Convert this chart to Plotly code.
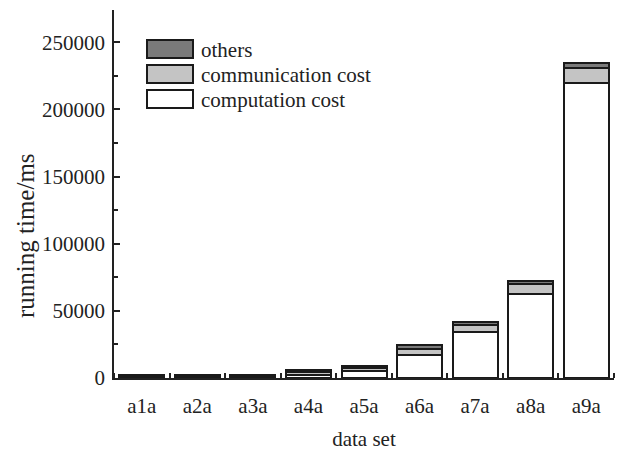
import plotly.graph_objects as go

# Running time per data set, split into its three cost components (ms)
datasets = ["a1a", "a2a", "a3a", "a4a", "a5a", "a6a", "a7a", "a8a", "a9a"]
computation_cost = [900, 1000, 900, 2600, 5500, 17000, 34000, 62500, 220000]
communication_cost = [700, 800, 700, 1500, 2000, 4500, 5500, 7500, 11000]
others = [800, 700, 900, 1500, 1500, 3000, 2500, 2000, 3500]

series = [
    ("computation cost", computation_cost, "#ffffff"),
    ("communication cost", communication_cost, "#c4c4c4"),
    ("others", others, "#7a7a7a"),
]

W, H = 620, 452
ML, MR, MT, MB = 114, 6, 10, 74
PW, PH = W - ML - MR, H - MT - MB

FONT = "Liberation Serif, Times New Roman, serif"
AXIS = "#222222"
TEXT = "#222222"

x = list(range(len(datasets)))
fig = go.Figure()
for name, vals, color in series:
    fig.add_trace(go.Bar(
        x=x, y=vals, name=name, width=0.81,
        marker=dict(color=color, line=dict(color="#1a1a1a", width=2)),
        showlegend=False,
    ))

# Legend drawn as boxes + labels in the upper-left corner
def px_to_paper_x(px):
    return (px - ML) / PW

def px_to_paper_y(py):
    return (H - MB - py) / PH

legend_rows = [("others", "#7a7a7a", 40), ("communication cost", "#c4c4c4", 65),
               ("computation cost", "#ffffff", 90)]
shapes = []
annotations = []
for label, color, top in legend_rows:
    shapes.append(dict(
        type="rect", xref="paper", yref="paper",
        x0=px_to_paper_x(147), x1=px_to_paper_x(193),
        y0=px_to_paper_y(top + 18), y1=px_to_paper_y(top),
        fillcolor=color, line=dict(color="#1a1a1a", width=2),
    ))
    annotations.append(dict(
        text=label, xref="paper", yref="paper",
        x=px_to_paper_x(199), y=px_to_paper_y(top + 9.5),
        xanchor="left", yanchor="middle", showarrow=False,
        font=dict(family=FONT, size=21, color=TEXT),
    ))

# Vertical axis title, placed a little below the plot's mid-height
annotations.append(dict(
    text="running time/ms", xref="paper", yref="paper",
    x=px_to_paper_x(26), y=px_to_paper_y(236),
    xanchor="center", yanchor="middle", textangle=-90, showarrow=False,
    font=dict(family=FONT, size=25, color=TEXT),
))

fig.update_layout(
    width=W, height=H,
    margin=dict(l=ML, r=MR, t=MT, b=MB),
    paper_bgcolor="white", plot_bgcolor="white",
    barmode="stack", bargap=0,
    font=dict(family=FONT, size=21, color=TEXT),
    shapes=shapes, annotations=annotations,
)

fig.update_xaxes(
    range=[-0.5, len(datasets) - 0.5],
    tickmode="array", tickvals=x, ticktext=datasets,
    ticks="", showgrid=False, zeroline=False,
    showline=True, linecolor=AXIS, linewidth=1.8,
    minor=dict(tickmode="array", tickvals=[i + 0.5 for i in range(-1, len(datasets))],
               ticks="inside", ticklen=5, tickwidth=1.5, tickcolor=AXIS, showgrid=False),
    ticklabelstandoff=8,
    title=dict(text="data set", font=dict(family=FONT, size=21), standoff=14),
    tickfont=dict(family=FONT, size=21),
)

fig.update_yaxes(
    range=[0, 274000],
    tickvals=[0, 50000, 100000, 150000, 200000, 250000],
    ticktext=["0", "50000", "100000", "150000", "200000", "250000"],
    ticks="inside", ticklen=6, tickwidth=1.5, tickcolor=AXIS,
    minor=dict(dtick=25000, ticks="inside", ticklen=4, tickwidth=1.5, tickcolor=AXIS, showgrid=False),
    showgrid=False, zeroline=False,
    showline=True, linecolor=AXIS, linewidth=1.8,
    ticklabelstandoff=3,
    tickfont=dict(family=FONT, size=21),
)

fig.write_html("out.html")
